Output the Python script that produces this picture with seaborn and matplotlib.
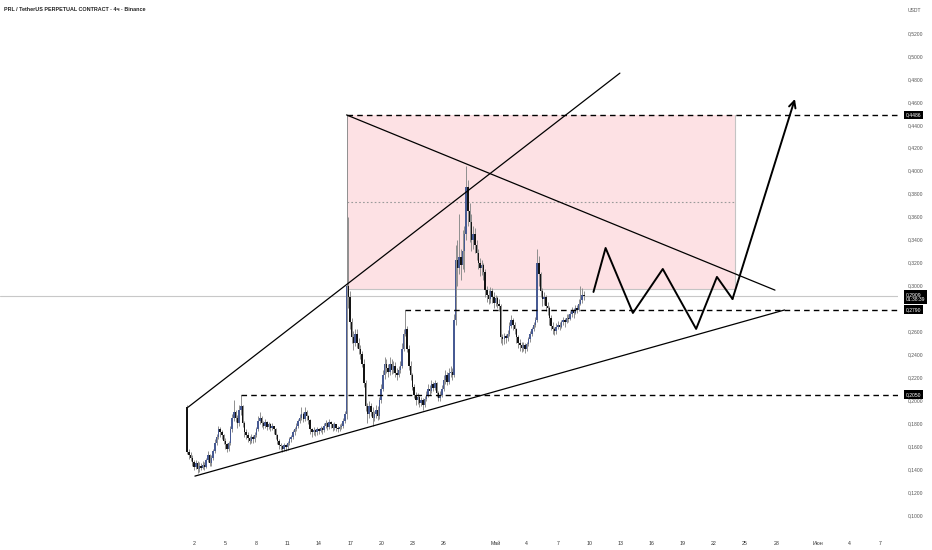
import pandas as pd
import matplotlib
matplotlib.use("Agg")
import matplotlib.pyplot as plt
import matplotlib.dates as mdates
import seaborn as sns

# 4h candles (open = previous close)
start_time = "2024-04-01 08:00"
first_open = 0.194
close = [0.155, 0.152, 0.150, 0.146, 0.142, 0.145, 0.140, 0.143, 0.141, 0.144,
         0.142, 0.148, 0.152, 0.145, 0.150, 0.156, 0.163, 0.168, 0.175, 0.172,
         0.170, 0.165, 0.162, 0.158, 0.163, 0.175, 0.185, 0.190, 0.185, 0.180,
         0.192, 0.195, 0.180, 0.172, 0.170, 0.167, 0.165, 0.168, 0.166, 0.170,
         0.175, 0.182, 0.185, 0.180, 0.178, 0.181, 0.177, 0.179, 0.176, 0.178,
         0.175, 0.170, 0.165, 0.161, 0.160, 0.158, 0.161, 0.159, 0.163, 0.166,
         0.168, 0.172, 0.175, 0.178, 0.182, 0.185, 0.188, 0.184, 0.190, 0.186,
         0.183, 0.175, 0.172, 0.174, 0.172, 0.175, 0.173, 0.176, 0.174, 0.178,
         0.180, 0.177, 0.181, 0.179, 0.176, 0.179, 0.176, 0.175, 0.177, 0.178,
         0.182, 0.188, 0.300,
         0.290, 0.268, 0.255, 0.250, 0.258, 0.250, 0.245, 0.240, 0.232, 0.215,
         0.195, 0.188, 0.195, 0.190, 0.185, 0.188, 0.192, 0.186, 0.200, 0.210,
         0.222, 0.232, 0.228, 0.225, 0.232, 0.226, 0.230, 0.224, 0.222, 0.226,
         0.230, 0.245, 0.258, 0.262, 0.245, 0.230, 0.222, 0.212, 0.205, 0.200,
         0.203, 0.198, 0.200, 0.196, 0.201, 0.205, 0.210, 0.208, 0.214, 0.211,
         0.215, 0.206, 0.202, 0.205, 0.210, 0.218, 0.222, 0.216, 0.224, 0.225,
         0.222, 0.270, 0.322,
         0.315, 0.325, 0.318, 0.330, 0.345, 0.386, 0.365, 0.355, 0.340, 0.345,
         0.335, 0.328, 0.320, 0.315, 0.318, 0.312, 0.296, 0.292, 0.288, 0.295,
         0.290, 0.285, 0.289, 0.284, 0.282, 0.255, 0.253, 0.256, 0.254, 0.258,
         0.265, 0.270, 0.266, 0.262, 0.255, 0.250, 0.248, 0.246, 0.248, 0.245,
         0.249, 0.253, 0.258, 0.262, 0.266, 0.270, 0.320, 0.310, 0.295, 0.288,
         0.290, 0.282, 0.280, 0.272, 0.265, 0.262, 0.260, 0.264, 0.266, 0.264,
         0.268, 0.270, 0.268, 0.272, 0.271, 0.275, 0.278, 0.276, 0.280, 0.279,
         0.284, 0.287, 0.292, 0.2909]
high = [0.196, 0.158, 0.155, 0.152, 0.148, 0.148, 0.147, 0.146, 0.145, 0.147,
        0.146, 0.150, 0.156, 0.153, 0.152, 0.158, 0.166, 0.171, 0.178, 0.177,
        0.174, 0.171, 0.167, 0.163, 0.165, 0.178, 0.188, 0.200, 0.192, 0.187,
        0.196, 0.205, 0.196, 0.182, 0.175, 0.172, 0.169, 0.171, 0.170, 0.172,
        0.177, 0.186, 0.190, 0.186, 0.182, 0.184, 0.182, 0.181, 0.180, 0.180,
        0.178, 0.176, 0.171, 0.166, 0.163, 0.161, 0.163, 0.162, 0.165, 0.168,
        0.170, 0.174, 0.177, 0.180, 0.184, 0.188, 0.194, 0.190, 0.194, 0.192,
        0.187, 0.184, 0.176, 0.177, 0.175, 0.177, 0.176, 0.178, 0.177, 0.180,
        0.183, 0.181, 0.184, 0.182, 0.180, 0.181, 0.179, 0.178, 0.179, 0.180,
        0.185, 0.191, 0.4486,
        0.360, 0.295, 0.272, 0.260, 0.262, 0.262, 0.254, 0.248, 0.243, 0.236,
        0.218, 0.198, 0.199, 0.198, 0.194, 0.191, 0.196, 0.195, 0.203, 0.214,
        0.226, 0.238, 0.236, 0.232, 0.238, 0.236, 0.234, 0.233, 0.228, 0.230,
        0.234, 0.250, 0.262, 0.279, 0.265, 0.248, 0.234, 0.224, 0.214, 0.207,
        0.206, 0.205, 0.203, 0.202, 0.204, 0.208, 0.214, 0.213, 0.218, 0.216,
        0.218, 0.216, 0.208, 0.208, 0.213, 0.222, 0.226, 0.225, 0.228, 0.230,
        0.228, 0.275, 0.335,
        0.340, 0.362, 0.332, 0.348, 0.352, 0.404, 0.392, 0.372, 0.362, 0.352,
        0.350, 0.340, 0.332, 0.324, 0.322, 0.320, 0.314, 0.300, 0.296, 0.299,
        0.298, 0.294, 0.292, 0.291, 0.288, 0.284, 0.258, 0.259, 0.258, 0.261,
        0.268, 0.274, 0.272, 0.268, 0.263, 0.257, 0.253, 0.251, 0.251, 0.250,
        0.251, 0.255, 0.260, 0.264, 0.268, 0.273, 0.332, 0.326, 0.312, 0.298,
        0.294, 0.292, 0.286, 0.282, 0.274, 0.268, 0.264, 0.267, 0.269, 0.268,
        0.270, 0.273, 0.272, 0.275, 0.275, 0.278, 0.281, 0.280, 0.283, 0.283,
        0.288, 0.300, 0.298, 0.295]
low = [0.153, 0.149, 0.147, 0.143, 0.139, 0.140, 0.137, 0.138, 0.139, 0.140,
       0.139, 0.141, 0.146, 0.143, 0.143, 0.148, 0.154, 0.161, 0.166, 0.168,
       0.166, 0.162, 0.158, 0.155, 0.156, 0.161, 0.172, 0.182, 0.181, 0.176,
       0.178, 0.187, 0.177, 0.168, 0.166, 0.164, 0.162, 0.163, 0.163, 0.164,
       0.168, 0.173, 0.179, 0.177, 0.175, 0.176, 0.174, 0.175, 0.173, 0.174,
       0.171, 0.166, 0.162, 0.158, 0.157, 0.155, 0.156, 0.156, 0.157, 0.161,
       0.164, 0.166, 0.170, 0.173, 0.176, 0.180, 0.183, 0.181, 0.182, 0.183,
       0.179, 0.171, 0.168, 0.170, 0.169, 0.170, 0.171, 0.172, 0.171, 0.172,
       0.176, 0.174, 0.175, 0.176, 0.173, 0.174, 0.173, 0.172, 0.173, 0.175,
       0.176, 0.180, 0.184,
       0.280, 0.262, 0.250, 0.244, 0.247, 0.246, 0.240, 0.236, 0.229, 0.212,
       0.191, 0.180, 0.185, 0.186, 0.178, 0.182, 0.185, 0.183, 0.184, 0.198,
       0.208, 0.219, 0.224, 0.220, 0.222, 0.223, 0.224, 0.220, 0.218, 0.220,
       0.224, 0.228, 0.243, 0.256, 0.242, 0.226, 0.218, 0.209, 0.202, 0.196,
       0.197, 0.194, 0.195, 0.192, 0.194, 0.199, 0.203, 0.205, 0.206, 0.208,
       0.209, 0.203, 0.199, 0.199, 0.203, 0.208, 0.214, 0.213, 0.214, 0.220,
       0.218, 0.220, 0.266,
       0.300, 0.310, 0.305, 0.314, 0.312, 0.340, 0.352, 0.338, 0.330, 0.332,
       0.328, 0.322, 0.314, 0.308, 0.309, 0.305, 0.290, 0.286, 0.284, 0.285,
       0.285, 0.280, 0.282, 0.280, 0.278, 0.250, 0.248, 0.249, 0.250, 0.252,
       0.256, 0.263, 0.261, 0.258, 0.250, 0.246, 0.243, 0.242, 0.243, 0.241,
       0.243, 0.247, 0.251, 0.256, 0.260, 0.264, 0.268, 0.300, 0.290, 0.282,
       0.283, 0.278, 0.274, 0.266, 0.261, 0.258, 0.257, 0.258, 0.262, 0.261,
       0.263, 0.266, 0.264, 0.267, 0.268, 0.270, 0.273, 0.272, 0.275, 0.276,
       0.278, 0.283, 0.285, 0.287]
last_price = 0.2909
last_timer = "01:38:39"

# drawings on the chart
box_start = "2024-04-16 16:00"
box_end = "2024-05-24 00:00"
box_low = 0.297
box_high = 0.4486
box_mid = 0.3728

level_prices = [0.4486, 0.2790, 0.2050]
level_starts = ["2024-04-16 16:00", "2024-04-22 08:00", "2024-04-06 12:00"]

wedge_up_x = ["2024-04-01 10:00", "2024-05-12 23:00"]
wedge_up_y = [0.194, 0.485]
wedge_down_x = ["2024-04-16 16:00", "2024-05-27 21:00"]
wedge_down_y = [0.4486, 0.296]
support_x = ["2024-04-02 02:00", "2024-05-28 19:00"]
support_y = [0.134, 0.2787]

path_x = ["2024-05-10 10:00", "2024-05-11 14:00", "2024-05-14 05:00", "2024-05-17 02:00",
          "2024-05-20 07:00", "2024-05-22 07:00", "2024-05-23 19:00", "2024-05-29 19:00"]
path_y = [0.2944, 0.3327, 0.2761, 0.3144, 0.2622, 0.3075, 0.2883, 0.4625]

# axes
x_range = ["2024-03-14 08:00", "2024-06-08 17:00"]
y_range = [0.0827, 0.5487]
tick_dates = ["2024-04-02", "2024-04-05", "2024-04-08", "2024-04-11", "2024-04-14",
              "2024-04-17", "2024-04-20", "2024-04-23", "2024-04-26", "2024-05-01",
              "2024-05-04", "2024-05-07", "2024-05-10", "2024-05-13", "2024-05-16",
              "2024-05-19", "2024-05-22", "2024-05-25", "2024-05-28", "2024-06-01",
              "2024-06-04", "2024-06-07"]
tick_labels = ["2", "5", "8", "11", "14", "17", "20", "23", "26", "Май",
               "4", "7", "10", "13", "16", "19", "22", "25", "28", "Июн", "4", "7"]
price_ticks = [0.10, 0.12, 0.14, 0.16, 0.18, 0.20, 0.22, 0.24, 0.26,
               0.30, 0.32, 0.34, 0.36, 0.38, 0.40, 0.42, 0.44, 0.46, 0.48, 0.50, 0.52]


def num(s):
    return mdates.date2num(pd.Timestamp(s))


sns.set_theme(style="white")
plt.rcParams["font.family"] = ["Liberation Sans", "DejaVu Sans"]

times = pd.date_range(start_time, periods=len(close), freq="4h")
df = pd.DataFrame({"t": mdates.date2num(times), "open": [first_open] + close[:-1],
                   "high": high, "low": low, "close": close})
df["up"] = df["close"] >= df["open"]

fig = plt.figure(figsize=(9.32, 5.5), dpi=100)
ax = fig.add_axes([0, 15 / 550, 898 / 932, 535 / 550])

# pink zone
ax.fill_between([num(box_start), num(box_end)], box_low, box_high,
                color="#fde1e4", lw=0, zorder=1)
ax.plot([num(box_end), num(box_end), num(box_start)], [box_high, box_low, box_low],
        color="#c4c4c4", lw=0.8, zorder=1.5)
ax.plot([num(box_start), num(box_end)], [box_mid, box_mid], color="#9a9a9a",
        lw=0.8, ls=(0, (1.5, 2)), zorder=1.5)

# last price line
ax.axhline(last_price, color="#c8c8c8", lw=0.8, zorder=1.2)

# candles
ax.vlines(df["t"], df["low"], df["high"], color="#8f8f8f", lw=0.7, zorder=3)
up = df[df["up"]]
dn = df[~df["up"]]
ax.bar(up["t"], up["close"] - up["open"], bottom=up["open"], width=0.14,
       color="#475a93", lw=0, zorder=4)
ax.bar(dn["t"], dn["close"] - dn["open"], bottom=dn["open"], width=0.14,
       color="#141414", lw=0, zorder=4)

# horizontal levels
for p, s in zip(level_prices, level_starts):
    ax.plot([num(s), num(x_range[1])], [p, p], color="black", lw=1,
            ls=(0, (4, 3)), zorder=5)

# trend lines
for xs, ys in [(wedge_up_x, wedge_up_y), (wedge_down_x, wedge_down_y), (support_x, support_y)]:
    sns.lineplot(x=[num(v) for v in xs], y=ys, ax=ax, color="black", lw=0.9, zorder=6)

# projected path
px = [num(v) for v in path_x]
sns.lineplot(x=px[:-1], y=path_y[:-1], ax=ax, color="black", lw=1.4, sort=False, zorder=6)
ax.annotate("", xy=(px[-1], path_y[-1]), xytext=(px[-2], path_y[-2]),
            arrowprops=dict(arrowstyle="->", color="black", lw=1.4,
                            mutation_scale=12, shrinkA=0, shrinkB=0), zorder=6)

ax.set_xlim(num(x_range[0]), num(x_range[1]))
ax.set_ylim(*y_range)
ax.set_xticks([num(d) for d in tick_dates])
ax.set_xticklabels(tick_labels, fontsize=3.8, color="#333333")
ax.yaxis.tick_right()
ax.set_yticks(price_ticks)
ax.set_yticklabels([f"{p:.4f}".replace(".", ",") for p in price_ticks],
                   fontsize=3.6, color="#555555")
ax.tick_params(axis="x", length=0, pad=4)
ax.tick_params(axis="y", length=0, pad=7)
ax.set_xlabel("")
ax.set_ylabel("")
sns.despine(ax=ax, left=True, bottom=True, right=True, top=True)

# price boxes on the scale
tr = ax.get_yaxis_transform()
for p in level_prices:
    ax.text(1.0085, p, f"{p:.4f}".replace(".", ","), transform=tr, ha="left",
            va="center", fontsize=3.6, color="white", clip_on=False, zorder=10,
            bbox=dict(boxstyle="square,pad=0.35", fc="black", ec="none"))
ax.annotate(f"{last_price:.4f}".replace(".", ",") + "\n" + last_timer,
            xy=(1.0085, last_price), xycoords=tr, xytext=(0, 3),
            textcoords="offset points", ha="left", va="top", fontsize=3.6,
            color="white", linespacing=1.1, annotation_clip=False, zorder=10,
            bbox=dict(boxstyle="square,pad=0.35", fc="black", ec="none"))

fig.text(0.004, 0.987, "PRL / TetherUS PERPETUAL CONTRACT · 4ч · Binance",
         fontsize=3.9, color="#222222", va="top", ha="left", fontweight="bold")
fig.text(0.981, 0.985, "USDT", fontsize=3.6, color="#555555", va="top", ha="center")

fig.savefig("out.png", dpi=100)
